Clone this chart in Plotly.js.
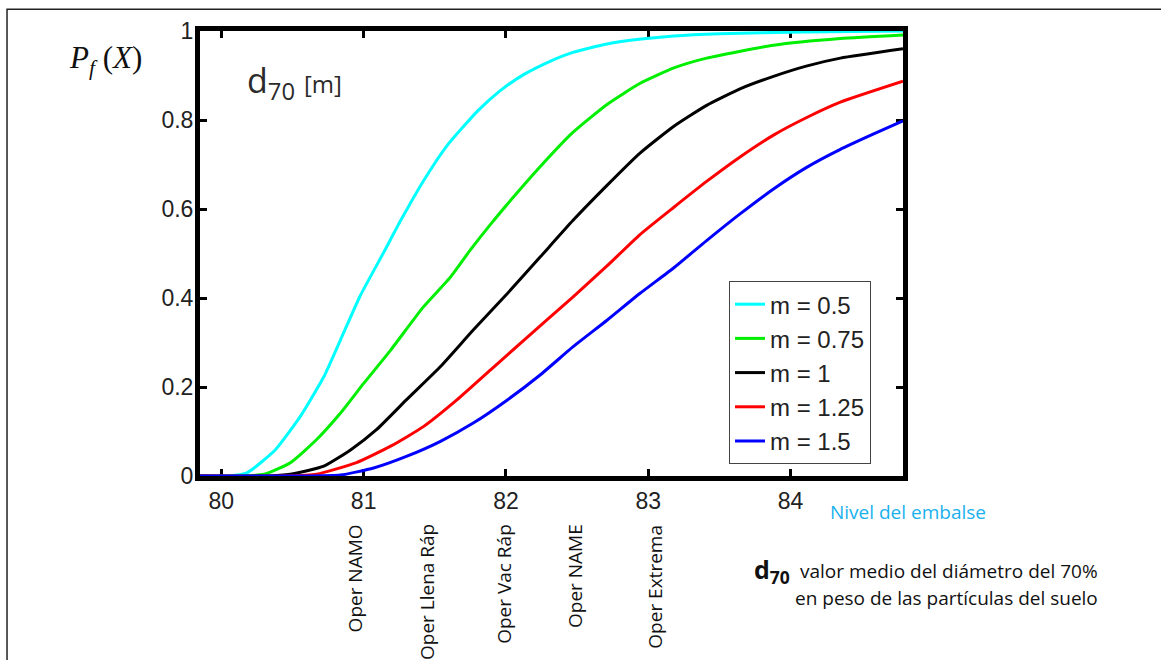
<!DOCTYPE html>
<html>
<head>
<meta charset="utf-8">
<script src="https://cdn.plot.ly/plotly-3.0.1.min.js"></script>
<style>html,body{margin:0;padding:0;background:#fff;}#chart{width:1161px;height:660px;}</style>
</head>
<body>
<div id="chart"></div>
<script>
// Series names
const seriesNames = ["m = 0.5", "m = 0.75", "m = 1", "m = 1.25", "m = 1.5"];
const seriesColors = ["#00FFFF", "#00EE00", "#000000", "#FF0000", "#0000FF"];

// Nivel del embalse (x) and Pf(X) (y) for each series
const x_m050 = [79.85, 80.05, 80.18, 80.38, 80.555, 80.72, 80.836, 80.976, 81.14, 81.26, 81.42, 81.585, 81.80, 81.96, 82.13, 82.31, 82.47, 82.71, 82.95, 83.18, 83.5, 84.09, 84.79];
const y_m050 = [0, 0, 0.007, 0.059, 0.134, 0.223, 0.305, 0.405, 0.502, 0.574, 0.663, 0.742, 0.820, 0.866, 0.903, 0.932, 0.952, 0.971, 0.982, 0.989, 0.994, 0.998, 1.0];

const x_m075 = [79.85, 80.15, 80.30, 80.485, 80.67, 80.836, 81.0, 81.19, 81.42, 81.61, 81.75, 81.89, 82.08, 82.24, 82.47, 82.71, 82.94, 83.18, 83.41, 83.88, 84.35, 84.79];
const y_m075 = [0, 0, 0.004, 0.030, 0.082, 0.141, 0.208, 0.283, 0.380, 0.447, 0.508, 0.565, 0.637, 0.695, 0.772, 0.835, 0.882, 0.917, 0.939, 0.968, 0.983, 0.991];

const x_m100 = [79.85, 80.3, 80.485, 80.72, 80.91, 81.09, 81.30, 81.54, 81.77, 82.01, 82.24, 82.47, 82.71, 82.94, 83.18, 83.41, 83.645, 83.88, 84.11, 84.35, 84.79];
const y_m100 = [0, 0, 0.004, 0.022, 0.059, 0.104, 0.171, 0.246, 0.328, 0.41, 0.492, 0.574, 0.653, 0.725, 0.786, 0.833, 0.870, 0.898, 0.921, 0.939, 0.960];

const x_m125 = [79.85, 80.45, 80.67, 80.95, 81.19, 81.42, 81.655, 81.89, 82.125, 82.47, 82.71, 82.94, 83.18, 83.41, 83.645, 83.88, 84.11, 84.35, 84.79];
const y_m125 = [0, 0, 0.004, 0.030, 0.067, 0.111, 0.171, 0.238, 0.305, 0.402, 0.472, 0.542, 0.604, 0.662, 0.717, 0.766, 0.805, 0.840, 0.887];

const x_m150 = [79.85, 80.6, 80.836, 81.07, 81.30, 81.54, 81.77, 82.01, 82.24, 82.47, 82.71, 82.94, 83.18, 83.41, 83.645, 83.88, 84.11, 84.35, 84.58, 84.79];
const y_m150 = [0, 0, 0.002, 0.018, 0.044, 0.078, 0.119, 0.171, 0.227, 0.290, 0.350, 0.41, 0.468, 0.529, 0.589, 0.645, 0.693, 0.734, 0.768, 0.798];

// Tick labels
const xTicks = [80, 81, 82, 83, 84];
const yTicks = [0, 0.2, 0.4, 0.6, 0.8, 1];
const yTickText = ["0", "0.2", "0.4", "0.6", "0.8", "1"];

// Operation level labels below the axis
const operLabels = ["Oper NAMO", "Oper Llena Ráp", "Oper Vac Ráp", "Oper NAME", "Oper Extrema"];
const operPos = [80.94, 81.45, 81.99, 82.49, 83.05];

const xs = [x_m050, x_m075, x_m100, x_m125, x_m150];
const ys = [y_m050, y_m075, y_m100, y_m125, y_m150];

const traces = seriesNames.map((name, i) => ({
  type: "scatter",
  mode: "lines",
  name: name,
  x: xs[i],
  y: ys[i],
  line: {color: seriesColors[i], width: 3, shape: "spline", smoothing: 0.5},
  cliponaxis: false,
  legendgroup: "g" + i
}));

const tickFont = {family: "Liberation Sans, Arial, sans-serif", size: 23, color: "#222"};
const labelFont = {family: "Open Sans, sans-serif", size: 19, color: "#111"};

const annotations = operLabels.map((t, i) => ({
  text: t, x: operPos[i], xref: "x", y: -0.104, yref: "paper",
  xanchor: "center", yanchor: "top", textangle: -90, showarrow: false,
  font: labelFont
}));

annotations.push({
  text: "<i>P</i><sub><i>f</i></sub> (<i>X</i>)",
  xref: "paper", yref: "paper", x: -0.134, y: 0.935, xanchor: "center", yanchor: "middle",
  showarrow: false, font: {family: "Liberation Serif, Times New Roman, serif", size: 31, color: "#111"}
});
annotations.push({
  text: "d<sub>70</sub> <span style='font-size:24px'>[m]</span>",
  xref: "paper", yref: "paper", x: 0.064, y: 0.885, xanchor: "left", yanchor: "middle",
  showarrow: false, font: {family: "Open Sans, sans-serif", size: 34, color: "#2b2b2b"}
});
annotations.push({
  text: "Nivel del embalse",
  xref: "paper", yref: "paper", x: 1.007, y: -0.081, xanchor: "center", yanchor: "middle",
  showarrow: false, font: {family: "Open Sans, sans-serif", size: 19, color: "#1AB0EE"}
});
annotations.push({
  text: "<b>d<sub>70</sub></b>",
  xref: "paper", yref: "paper", x: 0.785, y: -0.212, xanchor: "left", yanchor: "middle",
  showarrow: false, font: {family: "Open Sans, sans-serif", size: 25, color: "#111"}
});
annotations.push({
  text: "valor medio del diámetro del 70%",
  xref: "paper", yref: "paper", x: 1.2802, y: -0.2135, xanchor: "right", yanchor: "middle",
  showarrow: false, font: {family: "Open Sans, sans-serif", size: 19, color: "#111"}
});
annotations.push({
  text: "en peso de las partículas del suelo",
  xref: "paper", yref: "paper", x: 1.2802, y: -0.274, xanchor: "right", yanchor: "middle",
  showarrow: false, font: {family: "Open Sans, sans-serif", size: 19, color: "#111"}
});

const layout = {
  width: 1161, height: 660,
  margin: {l: 200, r: 258, t: 31, b: 184},
  paper_bgcolor: "#fff", plot_bgcolor: "#fff",
  showlegend: true,
  legend: {
    x: 0.7525, y: 0.438, xanchor: "left", yanchor: "top",
    bgcolor: "#fff", bordercolor: "#444", borderwidth: 1,
    font: {family: "Liberation Sans, Arial, sans-serif", size: 24, color: "#222"},
    tracegroupgap: 0, traceorder: "grouped"
  },
  xaxis: {
    range: [79.85, 84.79], tickvals: xTicks, ticktext: xTicks.map(String),
    showline: true, linecolor: "#000", linewidth: 5, mirror: "ticks",
    ticks: "inside", ticklen: 7, tickwidth: 3, tickcolor: "#000",
    showgrid: false, zeroline: false, tickfont: tickFont, layer: "below traces", fixedrange: true
  },
  yaxis: {
    range: [0, 1], tickvals: yTicks, ticktext: yTickText,
    showline: true, linecolor: "#000", linewidth: 5, mirror: "ticks",
    ticks: "inside", ticklen: 7, tickwidth: 3, tickcolor: "#000",
    showgrid: false, zeroline: false, tickfont: tickFont, layer: "below traces", fixedrange: true,
    ticklabelstandoff: -3
  },
  annotations: annotations,
  shapes: [{
    type: "rect", xref: "paper", yref: "paper",
    x0: -0.2745, x1: 1.6, y0: -0.6, y1: 1.0488,
    line: {color: "#222", width: 1.5}, fillcolor: "rgba(0,0,0,0)", layer: "below"
  }]
};

Plotly.newPlot("chart", traces, layout, {displayModeBar: false, staticPlot: true});
</script>
</body>
</html>
